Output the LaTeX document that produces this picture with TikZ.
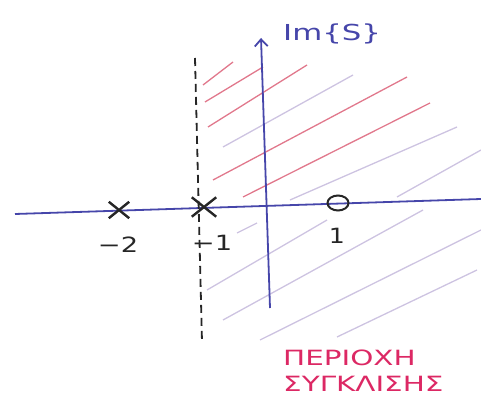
\documentclass[tikz,border=0pt]{standalone}
\usepackage{fontspec}
\usepackage{graphicx}
\setmainfont{DejaVu Sans}
\usetikzlibrary{shapes.misc,shapes.geometric,arrows.meta}
\definecolor{axisblue}{RGB}{70,70,170}
\definecolor{hatchred}{RGB}{225,120,140}
\definecolor{hatchgrey}{RGB}{205,195,225}
\definecolor{textred}{RGB}{220,40,100}
\tikzset{
  axisline/.style={axisblue, line width=1.8pt},
  pole/.style={cross out, draw=black!85, line width=2.4pt, inner sep=0pt},
  zero/.style={ellipse, draw=black!85, line width=2pt, minimum width=21pt, minimum height=15pt, inner sep=0pt},
  lbl/.style={font=\fontsize{21}{21}\selectfont, text=black!85},
  hatchA/.style={hatchred, line width=1.3pt},
  hatchB/.style={hatchgrey, line width=1.3pt},
  greek/.style={text=textred, font=\fontsize{21}{21}\selectfont, anchor=west, inner sep=0pt},
}
\begin{document}
\begin{tikzpicture}[x=1pt,y=-1pt]
\useasboundingbox (0,0) rectangle (481,411);
% hatch lines
\draw[hatchA] (203,85) -- (233,62);
\draw[hatchA] (205,102) -- (263,67);
\draw[hatchA] (208,127) -- (307,65);
\draw[hatchB] (223,147) -- (353,75);
\draw[hatchA] (213,180) -- (407,77);
\draw[hatchA] (243,197) -- (430,103);
\draw[hatchB] (290,200) -- (457,127);
\draw[hatchB] (397,197) -- (481,150);
\draw[hatchB] (237,233) -- (257,223);
\draw[hatchB] (207,290) -- (327,220);
\draw[hatchB] (223,320) -- (423,210);
\draw[hatchB] (260,340) -- (481,230);
\draw[hatchB] (337,337) -- (477,270);
% axes
\coordinate (xl) at (15,214);
\coordinate (xr) at (481,199);
\coordinate (yb) at (270,308);
\coordinate (yt) at (261,38);
\draw[axisline] (xl) -- (xr);
\draw[axisline, -{Straight Barb[length=7pt,width=13pt]}] (yb) -- (yt);
\node[text=axisblue, font=\fontsize{22}{22}\selectfont, anchor=west, inner sep=0pt] (im) at (283,34) {\scalebox{1.4}[1]{Im\{S\}}};
% dashed line
\coordinate (dt) at (195,58);
\coordinate (db) at (202,342);
\draw[black!85, line width=1.8pt, dash pattern=on 8pt off 5pt] (dt) -- (db);
% poles and zero
\node[pole, minimum width=18pt, minimum height=14pt] (p2) at (119,210) {};
\node[pole, minimum width=22pt, minimum height=17pt] (p1) at (204,207) {};
\node[zero] (z1) at (338,203) {};
\node[lbl] (l2) at (118,245) {\scalebox{1.3}[1]{−2}};
\node[lbl] (l1) at (212,243) {\scalebox{1.3}[1]{−1}};
\node[lbl] (l3) at (337,236) {\scalebox{1.2}[1]{1}};
% region label
\node[greek] (t1) at (283,358) {\scalebox{1.4}[1]{ΠΕΡΙΟΧΗ}};
\node[greek] (t2) at (283,384) {\scalebox{1.4}[1]{ΣΥΓΚΛΙΣΗΣ}};
\end{tikzpicture}
\end{document}
